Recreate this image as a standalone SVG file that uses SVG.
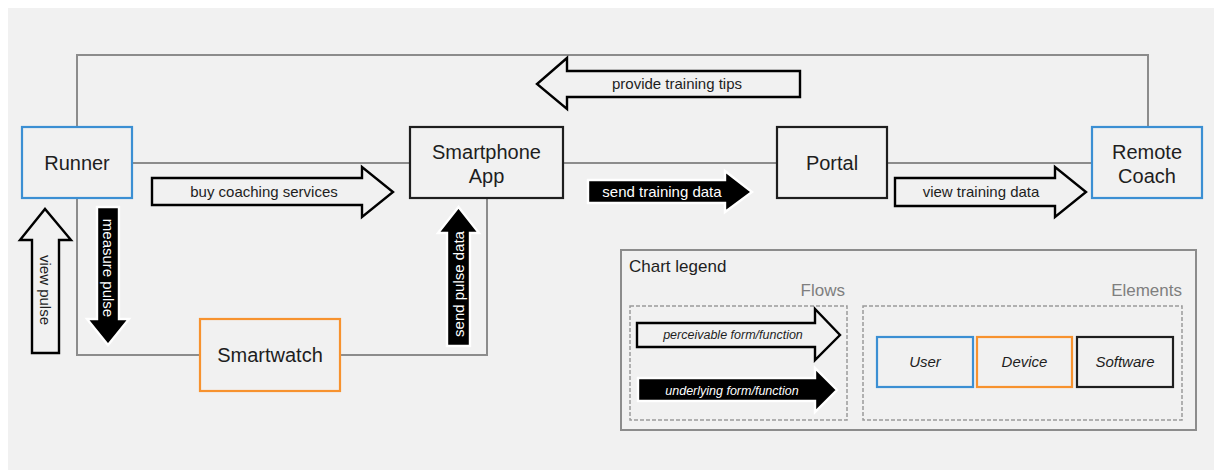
<svg xmlns="http://www.w3.org/2000/svg" width="1214" height="470" viewBox="0 0 1214 470">
<style>
text{font-family:"Liberation Sans",Arial,sans-serif;fill:#1e1e1e}
.node{font-size:20px;text-anchor:middle}
.box{fill:#f1f1f1;stroke-width:2.2}
.user{stroke:#3b8fd3}
.dev{stroke:#f7922e}
.sw{stroke:#1e1e1e}
.conn{fill:none;stroke:#8c8c8c;stroke-width:2}
.wa{fill:#f1f1f1;stroke:#000;stroke-width:2.4;stroke-linejoin:miter}
.ba{fill:#000;stroke:#fff;stroke-width:2.4;stroke-linejoin:miter}
.lbl{font-size:15px;text-anchor:middle}
.wl{fill:#fff}
.it{font-style:italic}
.dash{fill:none;stroke:#9a9a9a;stroke-width:1.5;stroke-dasharray:4 2}
.hdr{font-size:17px;fill:#7f7f7f;text-anchor:end}
</style>
<rect x="0" y="0" width="1214" height="470" fill="#ffffff"/>
<rect x="8" y="8" width="1206" height="462" fill="#f1f1f1"/>

<g id="connectors">
<polyline class="conn" points="77,127 77,55 1148,55 1148,127"/>
<line class="conn" x1="132" y1="163" x2="410" y2="163"/>
<line class="conn" x1="563" y1="163" x2="777" y2="163"/>
<line class="conn" x1="887" y1="163" x2="1092" y2="163"/>
<polyline class="conn" points="77,198 77,355 200,355"/>
<polyline class="conn" points="340,355 487,355 487,198"/>
</g>

<g id="runner"><rect class="box user" x="22" y="127" width="110" height="71"/><text class="node" x="77" y="170">Runner</text></g>
<g id="smartphone"><rect class="box sw" x="410" y="127" width="153" height="71"/><text class="node" x="486.5" y="159">Smartphone</text><text class="node" x="486.5" y="183">App</text></g>
<g id="portal"><rect class="box sw" x="777" y="127" width="110" height="71"/><text class="node" x="832" y="170">Portal</text></g>
<g id="remote-coach"><rect class="box user" x="1092" y="127" width="110" height="71"/><text class="node" x="1147" y="159">Remote</text><text class="node" x="1147" y="183">Coach</text></g>
<g id="smartwatch"><rect class="box dev" x="200" y="319" width="140" height="72"/><text class="node" x="270" y="362">Smartwatch</text></g>

<g id="flow-provide-tips">
<polygon class="wa" points="800,71 567,71 567,58 537,84 567,109 567,97 800,97"/>
<text class="lbl" x="677" y="89">provide training tips</text>
</g>
<g id="flow-buy-coaching">
<polygon class="wa" points="152,178 362,178 362,167 393,192 362,217 362,205 152,205"/>
<text class="lbl" x="264" y="197">buy coaching services</text>
</g>
<g id="flow-send-training">
<polygon class="ba" points="588,180 725,180 725,171 752,192 725,212 725,203 588,203"/>
<text class="lbl wl" x="662" y="197">send training data</text>
</g>
<g id="flow-view-training">
<polygon class="wa" points="895,178 1055,178 1055,167 1086,192 1055,217 1055,206 895,206"/>
<text class="lbl" x="981" y="197">view training data</text>
</g>
<g id="flow-view-pulse">
<polygon class="wa" points="32,353 32,240 20,240 45,209 71,240 59,240 59,353"/>
<text class="lbl" transform="translate(45,290) rotate(90)" y="5">view pulse</text>
</g>
<g id="flow-measure-pulse">
<polygon class="ba" points="97,207 119,207 119,319 129,319 108,345 87,319 97,319"/>
<text class="lbl wl" transform="translate(108,268) rotate(90)" y="5">measure pulse</text>
</g>
<g id="flow-send-pulse">
<polygon class="ba" points="447,346 447,233 438,233 458.5,207 479,233 470,233 470,346"/>
<text class="lbl wl" transform="translate(458.5,284) rotate(-90)" y="5">send pulse data</text>
</g>

<g id="legend">
<rect x="621" y="250" width="575" height="180" fill="none" stroke="#8c8c8c" stroke-width="2"/>
<text x="629" y="272" font-size="17">Chart legend</text>
<text class="hdr" x="845" y="296">Flows</text>
<text class="hdr" x="1182" y="296">Elements</text>
<rect class="dash" x="630" y="306" width="217" height="114"/>
<rect class="dash" x="863" y="306" width="319" height="114"/>
<polygon class="wa" points="637,323 815,323 815,309 840,335 815,360 815,347 637,347"/>
<text class="it" x="733" y="339" font-size="12.5" text-anchor="middle">perceivable form/function</text>
<polygon class="ba" points="638,378 815,378 815,368 837,390 815,412 815,401 638,401"/>
<text class="it wl" x="732" y="395" font-size="12.5" text-anchor="middle">underlying form/function</text>
<rect class="box user" x="877" y="337" width="96" height="50"/>
<text class="it" x="925" y="367" font-size="15" text-anchor="middle">User</text>
<rect class="box dev" x="977" y="337" width="95" height="50"/>
<text class="it" x="1024.5" y="367" font-size="15" text-anchor="middle">Device</text>
<rect class="box sw" x="1077" y="337" width="96" height="50"/>
<text class="it" x="1125" y="367" font-size="15" text-anchor="middle">Software</text>
</g>
</svg>
